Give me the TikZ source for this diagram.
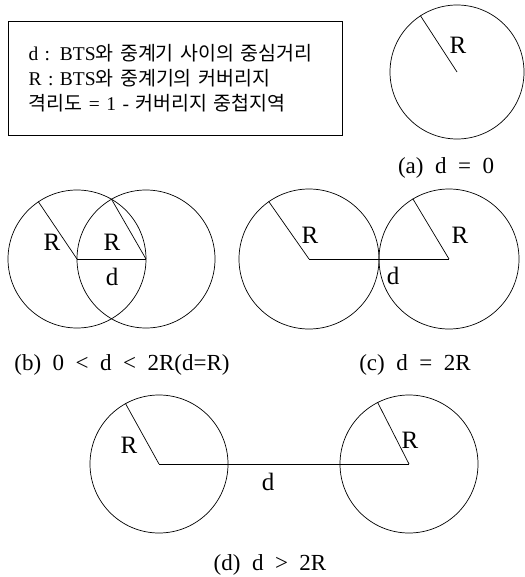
\documentclass[tikz,border=0pt]{standalone}
\usepackage{fontspec}
\setmainfont{Liberation Serif}
\newfontfamily\krfont{Noto Sans CJK KR}
\newcommand{\kr}[1]{{\krfont #1}}
\usetikzlibrary{positioning}
\tikzset{
  cell/.style={draw,circle,inner sep=0pt,minimum size=#1,line width=0.7pt},
  rad/.style={line width=0.7pt},
  lbl/.style={font=\fontsize{25}{25}\selectfont,inner sep=0pt},
  subcap/.style={font=\fontsize{23}{23}\selectfont,inner sep=0pt},
  legend/.style={draw,line width=1pt,anchor=north west,
                 minimum width=334pt,minimum height=114pt,
                 text width=304pt,inner xsep=15pt,align=left,
                 font=\fontsize{19.5}{25}\selectfont},
}
\begin{document}
\begin{tikzpicture}[x=1pt,y=-1pt]
  \useasboundingbox (0,0) rectangle (524,577);

  \node[legend] (key) at (8,21)
    {\hspace*{5pt}d : BTS\kr{와 중계기 사이의 중심거리}\\
     \hspace*{5pt}R : BTS\kr{와 중계기의 커버리지}\\
     \hspace*{5pt}\kr{격리도} = 1 - \kr{커버리지 중첩지역}};

  % (a)
  \node[cell=134pt] (a) at (457,72) {};
  \draw[rad] (a.center) -- (a.123);
  \node[lbl] (aR) at (458,45) {R};
  \node[subcap] (acap) at (446,168) {(a)~~d~~=~~0};

  % (b)
  \node[cell=138pt] (b1) at (77,259) {};
  \node[cell=138pt] (b2) at (146,259) {};
  \draw[rad] (b1.center) -- (b1.124);
  \draw[rad] (b2.center) -- (b2.120);
  \draw[rad] (b1.center) -- (b2.center);
  \node[lbl] (bR1) at (52,242) {R};
  \node[lbl] (bR2) at (112,242) {R};
  \node[lbl] (bd) at (112,277) {d};
  \node[subcap] (bcap) at (122,365) {(b)~~0~~<~~d~~<~~2R(d=R)};

  % (c)
  \node[cell=140pt] (c1) at (309,259) {};
  \node[cell=140pt] (c2) at (449,259) {};
  \draw[rad] (c1.center) -- (c1.125);
  \draw[rad] (c2.center) -- (c2.121);
  \draw[rad] (c1.center) -- (c2.center);
  \node[lbl] (cR1) at (310,235) {R};
  \node[lbl] (cR2) at (460,235) {R};
  \node[lbl] (cd) at (393,276) {d};
  \node[subcap] (ccap) at (415,365) {(c)~~d~~=~~2R};

  % (d)
  \node[cell=138pt] (d1) at (159,464) {};
  \node[cell=138pt] (d2) at (409,464) {};
  \draw[rad] (d1.center) -- (d1.119);
  \draw[rad] (d2.center) -- (d2.117);
  \draw[rad] (d1.center) -- (d2.center);
  \node[lbl] (dR1) at (129,445) {R};
  \node[lbl] (dR2) at (410,440) {R};
  \node[lbl] (dd) at (268,482) {d};
  \node[subcap] (dcap) at (270,565) {(d)~~d~~>~~2R};
\end{tikzpicture}
\end{document}
